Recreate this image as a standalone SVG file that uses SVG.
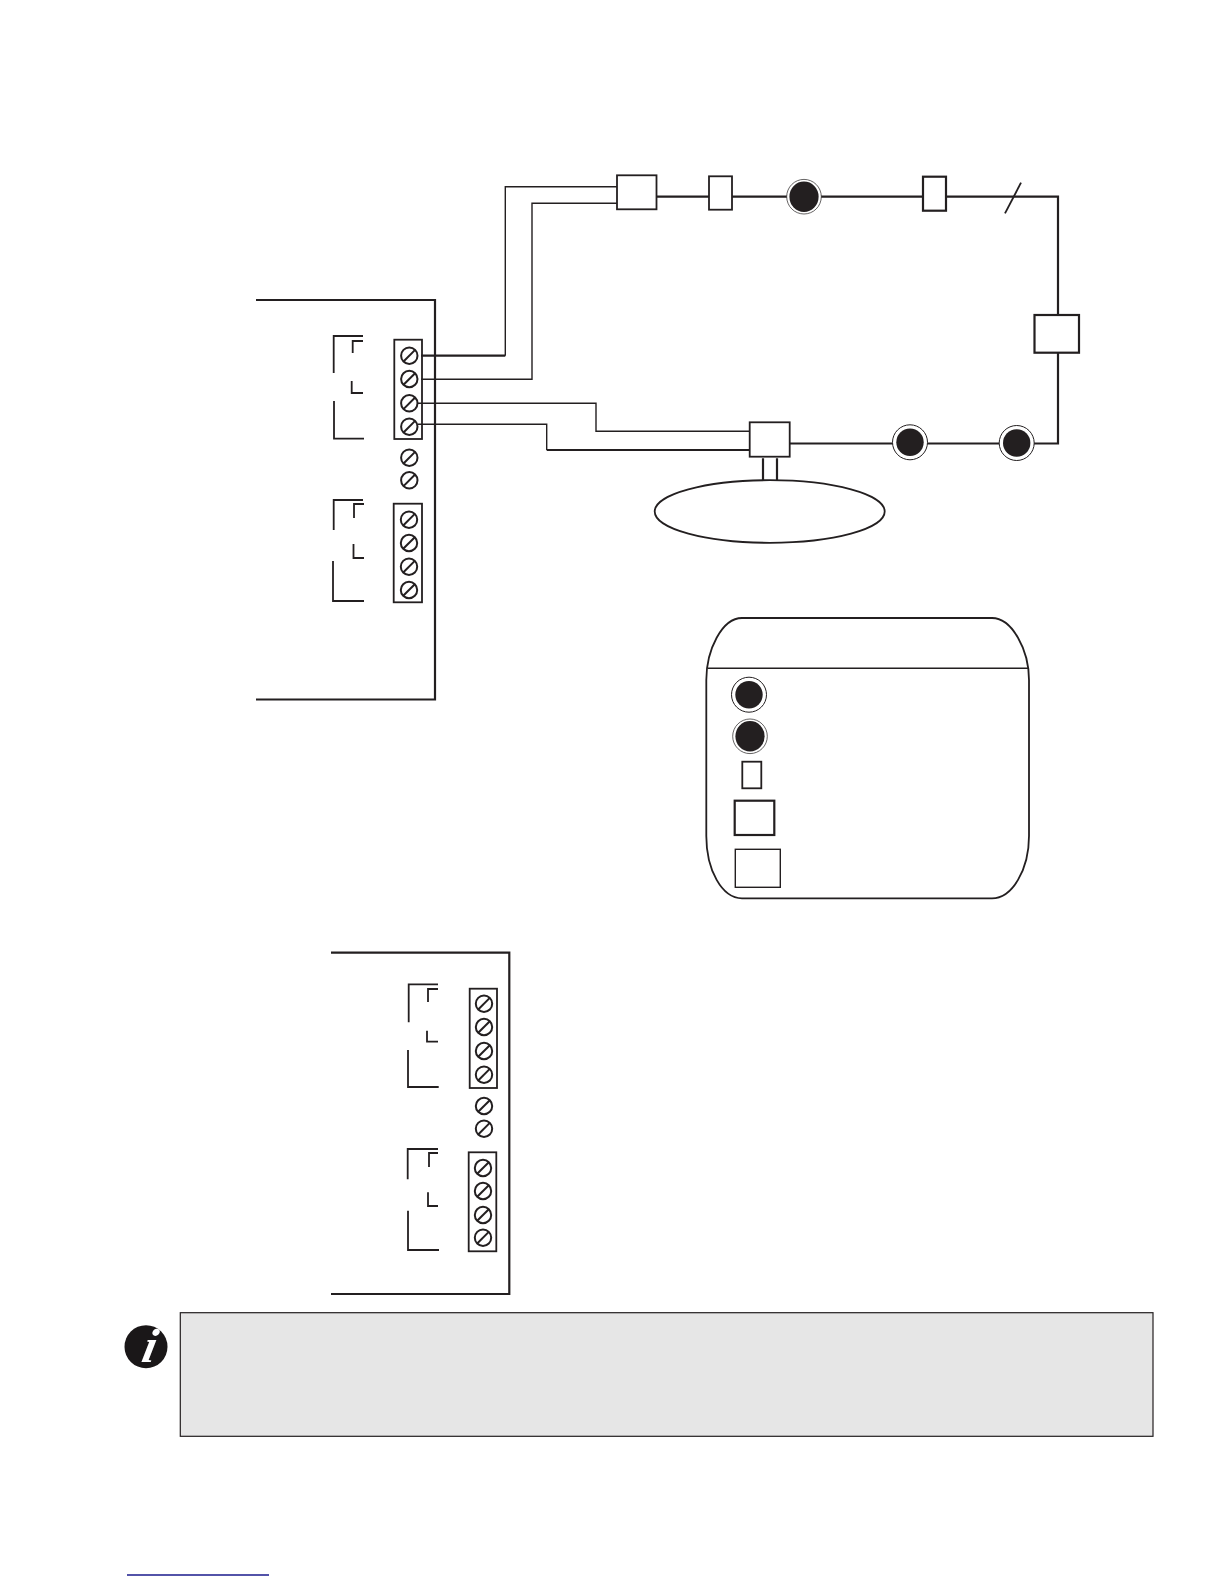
<svg xmlns="http://www.w3.org/2000/svg" xmlns:xlink="http://www.w3.org/1999/xlink" width="1224" height="1584" viewBox="0 0 1224 1584">
<style>
.ln{fill:none;stroke:#231f20;stroke-width:1.8}
.th{fill:none;stroke:#231f20;stroke-width:1.4}
.hv{fill:none;stroke:#231f20;stroke-width:2.2}
.bx{fill:#fff;stroke:#231f20;stroke-width:1.8}
.bxh{fill:#fff;stroke:#231f20;stroke-width:2.2}
.tb{fill:none;stroke:#231f20;stroke-width:1.8}
.dot{fill:#231f20}
.ring{fill:#fff;stroke:#231f20;stroke-width:1}
</style>
<defs>
<g id="screw"><circle r="8.2" fill="#fff" stroke="#231f20" stroke-width="2"/><line x1="-5.8" y1="5.8" x2="5.8" y2="-5.8" stroke="#231f20" stroke-width="2"/></g>
<g id="lamp"><circle r="17.5" class="ring"/><circle r="13.7" class="dot"/></g>
<g id="lamp2"><circle r="17.3" fill="#fff" stroke="#231f20" stroke-width=".7"/><ellipse rx="14.6" ry="15.2" class="dot"/></g>
</defs>
<rect width="1224" height="1584" fill="#fff"/>

<g id="connectors">
<path class="hv" d="M656.5 196.7H709M732 196.7H787M821 196.7H923M946 196.7H1058V315M1058 352.7V443.5H1034M999 443.5H927M893 443.5H789.7"/>
<path class="hv" d="M421 355.7H505.3"/>
<path class="th" d="M505.3 355.7V186.7H619"/>
<path class="th" d="M421 379.3H532V203.3H617"/>
<path class="th" d="M418 403.3H596V431.3H749.7"/>
<path class="th" d="M418 424.3H546.7V450"/>
<path class="hv" d="M546.7 450H749.7"/>
<path class="ln" d="M1005 213.3L1021 182.7"/>
<path class="hv" d="M763 458.3V480M777 458.3V480"/>
</g>

<g id="panel-a">
<path class="hv" d="M256 300H435V699.5H256"/>
<path class="ln" d="M333.7 373V336H363M352.7 353V341H363M351.7 381V393H363M334 401V438.7H364"/>
<rect class="tb" x="394.3" y="339.7" width="27.7" height="99.3"/>
<use xlink:href="#screw" href="#screw" x="409.3" y="355.7"/>
<use xlink:href="#screw" href="#screw" x="409.3" y="379"/>
<use xlink:href="#screw" href="#screw" x="409.3" y="403.3"/>
<use xlink:href="#screw" href="#screw" x="409.3" y="426.7"/>
<use xlink:href="#screw" href="#screw" x="409.3" y="457.7"/>
<use xlink:href="#screw" href="#screw" x="409.3" y="480.3"/>
<path class="ln" d="M333.7 530V500H363M354 518V504H364M353.5 544V558H364M333 561V601H364"/>
<rect class="tb" x="393.7" y="503.7" width="28.3" height="98.6"/>
<use xlink:href="#screw" href="#screw" x="409" y="519.7"/>
<use xlink:href="#screw" href="#screw" x="409" y="543"/>
<use xlink:href="#screw" href="#screw" x="409" y="566.7"/>
<use xlink:href="#screw" href="#screw" x="409" y="590"/>
</g>

<g id="box-a"><rect class="bx" x="617" y="175.3" width="39.5" height="34"/></g>
<g id="box-b"><rect class="bx" x="709" y="176.3" width="23" height="33.4"/></g>
<g id="lamp-c"><use xlink:href="#lamp2" href="#lamp2" x="804" y="196.7"/></g>
<g id="box-d"><rect class="bxh" x="923" y="176.7" width="23" height="34"/></g>
<g id="box-e"><rect class="bxh" x="1034.5" y="315" width="44.5" height="37.7"/></g>
<g id="box-f"><rect class="bx" x="749.7" y="422.3" width="40" height="34.4"/></g>
<g id="lamp-g"><use xlink:href="#lamp" href="#lamp" x="910" y="442.3"/></g>
<g id="lamp-h"><use xlink:href="#lamp" href="#lamp" x="1016.7" y="443"/></g>
<g id="ellipse"><ellipse class="ln" cx="769.7" cy="511.5" rx="115" ry="31.3" fill="#fff"/></g>

<g id="legend">
<path class="ln" d="M742 618H992C1012 618 1029 650 1029 680V836C1029 870 1012 898.3 992 898.3H742C722 898.3 706.3 870 706.3 836V680C706.3 650 722 618 742 618Z"/>
<line class="th" x1="707.5" y1="668.3" x2="1028" y2="668.3"/>
<use xlink:href="#lamp" href="#lamp" x="749" y="694.7"/>
<use xlink:href="#lamp2" href="#lamp2" x="750" y="736.3"/>
<rect class="bx" x="742.3" y="761.7" width="19" height="26.6"/>
<rect class="bxh" x="734.7" y="800.7" width="39.6" height="34.3"/>
<rect class="bx" style="stroke-width:1.4" x="735.3" y="849.3" width="45" height="38"/>
</g>

<g id="panel-b">
<path class="hv" d="M331 952.7H509.3V1294H331"/>
<path class="ln" d="M408.7 1022.3V984.3H438M428 1002V989H438M427 1030.7V1041.7H438M408 1050V1087H438.7"/>
<rect class="tb" x="469.7" y="988.7" width="27.3" height="99.3"/>
<use xlink:href="#screw" href="#screw" x="484" y="1003.7"/>
<use xlink:href="#screw" href="#screw" x="484" y="1027"/>
<use xlink:href="#screw" href="#screw" x="484" y="1051"/>
<use xlink:href="#screw" href="#screw" x="484" y="1074.7"/>
<use xlink:href="#screw" href="#screw" x="484" y="1106"/>
<use xlink:href="#screw" href="#screw" x="484" y="1128.7"/>
<path class="ln" d="M407.7 1179.3V1149H438M429 1167V1153H438M428 1192.3V1206H438M408 1210.7V1250H439"/>
<rect class="tb" x="468.7" y="1152.3" width="27.6" height="99"/>
<use xlink:href="#screw" href="#screw" x="483" y="1168"/>
<use xlink:href="#screw" href="#screw" x="483" y="1191"/>
<use xlink:href="#screw" href="#screw" x="483" y="1215"/>
<use xlink:href="#screw" href="#screw" x="483" y="1237.7"/>
</g>

<g id="note">
<rect x="180.3" y="1312.7" width="972.7" height="123.6" fill="#e6e6e6" stroke="#231f20" stroke-width="1.2"/>
</g>
<g id="info-icon">
<circle cx="146" cy="1346.7" r="21.5" fill="#1a1718"/>
<text x="0" y="0" transform="translate(147 1362) skewX(-12)" font-family="'Liberation Serif',serif" font-size="48" font-weight="bold" font-style="italic" fill="#fff" text-anchor="middle">i</text>
</g>
<line id="footer-rule" x1="127" y1="1575" x2="269" y2="1575" stroke="#1a1a8c" stroke-width="1.3"/>
</svg>
